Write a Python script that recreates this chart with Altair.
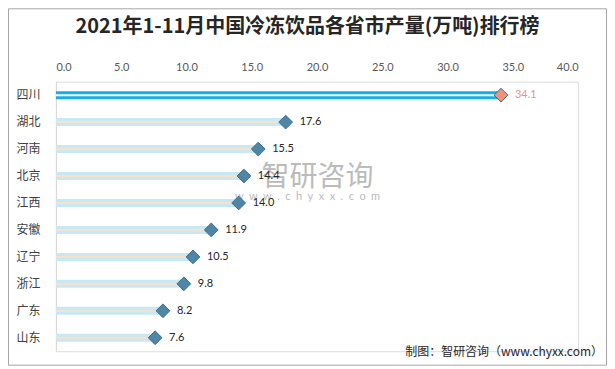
import altair as alt
import pandas as pd

provinces = ["四川", "湖北", "河南", "北京", "江西", "安徽", "辽宁", "浙江", "广东", "山东"]
values = [34.1, 17.6, 15.5, 14.4, 14.0, 11.9, 10.5, 9.8, 8.2, 7.6]
x_ticks = [0, 5, 10, 15, 20, 25, 30, 35, 40]

title_text = "2021年1-11月中国冷冻饮品各省市产量(万吨)排行榜"
source_text = "制图：智研咨询（www.chyxx.com）"
wm_main = "智研咨询"
wm_sub = "\u2002".join("www.chyxx.com")

df = pd.DataFrame({"province": provinces, "value": values})
one = pd.DataFrame({"k": [0]})

CJK = "Noto Sans CJK SC"
NUM = "Lato"
is_top = alt.datum.province == "四川"

xs = alt.X("value:Q", scale=alt.Scale(domain=[0, 40], nice=False),
           axis=alt.Axis(orient="top", values=x_ticks, format=".1f", domain=False,
                         ticks=False, grid=False, labelFont=NUM, labelFontSize=11,
                         labelColor="#595959", labelPadding=9, title=None))
ys = alt.Y("province:N", sort=provinces, scale=alt.Scale(paddingInner=0, paddingOuter=0),
           axis=alt.Axis(domainColor="#d9d9d9", ticks=False, grid=False, labelFont=CJK,
                         labelFontSize=12, labelColor="#404040", labelPadding=16,
                         title=None))

base = alt.Chart(df)

bar = base.mark_bar(height=8).encode(
    x=xs, y=ys,
    color=alt.condition(is_top, alt.value("#18ade8"), alt.value("#c6e9f8")))
mid = base.mark_bar(height=2).encode(
    x="value:Q", y=alt.Y("province:N", sort=provinces),
    color=alt.condition(is_top, alt.value("#ffffff"), alt.value("#fbe0c8")))
pts = base.mark_point(shape="diamond", filled=True, size=190, stroke="#3d6e8c",
                      strokeWidth=1, opacity=1).encode(
    x="value:Q", y=alt.Y("province:N", sort=provinces),
    fill=alt.condition(is_top, alt.value("#f0937a"), alt.value("#4f86a5")))
lbl = base.mark_text(align="left", dx=14, font=NUM, fontSize=11).encode(
    x="value:Q", y=alt.Y("province:N", sort=provinces),
    text=alt.Text("value:Q", format=".1f"),
    color=alt.condition(is_top, alt.value("#f0937a"), alt.value("#262626")))

oc = alt.Chart(one)
frame = oc.mark_rect(fillOpacity=0, stroke="#a6a6a6", strokeWidth=1).encode(
    x=alt.value(-47.5), x2=alt.value(551.5), y=alt.value(-73), y2=alt.value(284))
title = oc.mark_text(font=CJK, fontSize=20, fontWeight="bold", color="#262626",
                     align="center", baseline="middle").encode(
    x=alt.value(252), y=alt.value(-54.5), text=alt.value(title_text))
wm1 = oc.mark_text(font=CJK, fontSize=28, color="#b0b0b0", opacity=0.85,
                   align="left", baseline="middle").encode(
    x=alt.value(206), y=alt.value(96.5), text=alt.value(wm_main))
wm2 = oc.mark_text(font=NUM, fontSize=11, color="#b0b0b0", opacity=0.85,
                   align="center", baseline="middle").encode(
    x=alt.value(252), y=alt.value(115.5), text=alt.value(wm_sub))
src = oc.mark_text(font=CJK, fontSize=12, color="#262626",
                   align="right", baseline="middle").encode(
    x=alt.value(548), y=alt.value(270.5), text=alt.value(source_text))

chart = alt.layer(frame, title, wm1, wm2, bar, mid, pts, lbl, src).properties(
    width=523, height=270,
    autosize=alt.AutoSizeParams(type="none"),
    padding={"left": 48, "top": 73.5, "right": 29, "bottom": 14.5},
).configure_view(stroke=None).configure(background="#ffffff")

chart.save("out.html", embed_options={"renderer": "svg", "actions": False})
